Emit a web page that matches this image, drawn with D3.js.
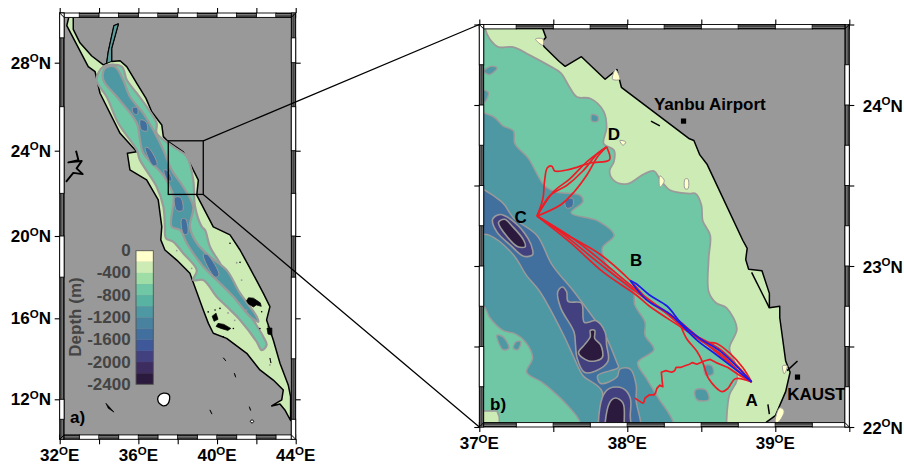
<!DOCTYPE html>
<html>
<head>
<meta charset="utf-8">
<title>Red Sea glider tracks</title>
<script src="https://cdnjs.cloudflare.com/ajax/libs/d3/7.8.5/d3.min.js"></script>
<style>
  html, body { margin: 0; padding: 0; background: #fff; }
  svg { display: block; }
  text { font-family: "Liberation Sans", Arial, sans-serif; font-weight: bold; }
</style>
</head>
<body>
<svg id="chart" width="904" height="466"></svg>
<script>
// ---- depth colour bar ----
const depthBreaks = [0, -200, -400, -600, -800, -1000, -1200, -1400, -1600, -1800, -2000, -2200, -2400];
const depthColors = ['#ffffcc', '#cdebb5', '#9fdda6', '#70c7a6', '#58b3a2', '#4e98a3', '#48829f', '#41709e', '#3f5899', '#42407f', '#3d2c5f', '#2b1a3d'];
const depthTicks = [0, -400, -800, -1200, -1600, -2000, -2400];

// ---- panel a) whole Red Sea, lon/lat ----
const seaA = [[32.52,30.02],[32.69,29.79],[32.69,29.34],[33.03,28.80],[33.63,28.27],[34.22,27.90],[34.39,27.97],[34.47,28.43],[34.76,29.49],[34.98,29.56],[34.64,28.58],[34.64,28.05],[35.07,28.08],[35.41,27.82],[35.92,27.06],[36.39,26.38],[36.68,25.77],[37.19,25.17],[37.27,24.64],[37.52,24.41],[38.28,23.95],[38.62,23.41],[39.05,22.62],[38.97,21.92],[39.81,20.43],[40.66,20.05],[41.17,19.32],[41.68,18.43],[42.35,17.22],[42.69,16.57],[42.52,15.92],[42.86,14.93],[43.20,13.78],[43.62,12.71],[43.74,12.13],[43.74,10.94],[43.45,11.47],[43.20,11.77],[42.78,11.67],[43.29,11.97],[43.37,12.46],[42.86,12.95],[42.18,13.45],[41.51,14.27],[40.49,15.01],[39.81,15.26],[39.56,15.75],[39.30,16.40],[38.62,18.19],[37.95,18.83],[37.35,19.32],[37.14,19.81],[37.19,20.44],[37.01,21.69],[36.42,22.63],[35.57,23.10],[35.44,23.88],[35.92,23.95],[35.07,24.79],[34.05,26.61],[33.80,27.59],[33.45,27.82],[32.36,29.49]];
const aqabaA = [[34.47,28.43],[34.76,29.49],[34.98,29.56],[34.64,28.58],[34.64,28.05],[34.39,27.97]];
const midA = [[34.22,27.82],[35.15,27.82],[35.41,27.21],[35.92,26.61],[36.42,26.00],[36.93,25.25],[36.93,24.79],[37.78,24.18],[38.46,23.72],[38.79,22.63],[38.83,22.01],[38.88,21.38],[39.22,20.44],[39.39,20.28],[39.64,19.48],[40.24,18.51],[40.57,17.62],[41.17,17.05],[41.84,15.92],[42.35,15.09],[42.52,14.68],[42.27,14.43],[42.02,14.84],[41.17,15.92],[40.49,16.57],[39.98,17.05],[39.30,17.86],[38.79,17.86],[38.97,18.34],[38.28,19.16],[37.78,19.72],[37.40,19.89],[37.35,20.44],[37.27,21.38],[36.93,22.31],[36.08,23.56],[35.92,24.03],[34.98,25.25],[34.39,26.45],[33.88,27.21]];
const centreA = [[34.30,27.75],[34.81,27.82],[35.23,27.21],[35.57,26.45],[36.25,25.70],[36.76,24.94],[37.27,24.03],[37.69,23.10],[38.28,22.31],[38.79,21.38],[38.62,20.44],[38.97,19.65],[39.64,19.00],[40.49,18.34],[41.17,17.22],[42.02,16.08],[42.10,15.83],[41.68,16.08],[40.83,17.05],[39.98,17.86],[39.30,18.51],[38.46,19.65],[38.12,20.28],[37.69,20.44],[37.78,21.89],[37.27,22.83],[36.25,23.88],[36.08,24.50],[35.92,25.25],[34.90,26.45],[34.22,27.21]];
const deepA = [
  [[36.35,24.15],[36.55,24.10],[36.95,23.35],[36.75,23.30]],
  [[36.10,25.40],[36.40,25.30],[36.45,24.90],[36.15,24.95]],
  [[35.70,25.95],[35.95,25.95],[35.95,25.65],[35.75,25.70]],
  [[37.30,23.10],[37.50,23.05],[37.70,22.60],[37.50,22.60]],
  [[37.85,21.80],[38.15,21.80],[38.25,21.20],[37.95,21.20]],
  [[38.20,20.80],[38.40,20.80],[38.50,20.10],[38.30,20.10]],
  [[39.30,19.10],[39.50,19.10],[40.10,18.10],[39.90,18.00]]
];
const islandsA = [
  [[41.50,16.85],[41.60,17.00],[41.85,16.98],[42.20,16.75],[42.25,16.58],[42.00,16.65],[41.85,16.55],[41.60,16.70]],
  [[39.75,16.10],[39.95,16.25],[40.05,15.95],[39.85,15.85]],
  [[40.05,15.75],[40.35,15.70],[40.70,15.50],[40.55,15.40],[40.20,15.50],[39.95,15.60]],
  [[42.54,15.52],[42.79,15.52],[42.79,15.17],[42.59,15.22]],
  [[42.69,14.04],[42.74,13.79]],
  [[40.32,14.05],[40.45,13.89]],
  [[40.88,13.29],[40.95,13.09]],
  [[34.35,11.80],[34.47,11.55],[34.76,11.36]],
  [[39.64,11.47],[39.74,11.26]],
  [[41.64,11.63],[41.71,11.44]]
];
const blackSpecksA = [[39.55,16.31],[39.90,16.40],[40.15,16.48],[40.83,15.50],[40.32,15.09],[41.17,18.72],[42.27,16.32],[42.61,15.60],[42.18,15.50],[40.66,19.65]];
const greySpecksA = [[37.95,19.29],[37.44,18.75],[38.71,18.43],[41.00,18.70],[41.25,17.86],[40.56,16.26],[40.90,15.90],[41.50,16.40],[42.69,13.70]];
const nasserA = [[32.83,24.00],[32.95,23.56],[32.44,23.45],[33.12,23.52],[32.86,23.17],[33.17,22.90],[32.69,22.96],[32.32,22.54]];
const whiteIslandA = [[37.01,12.13],[37.27,12.30],[37.57,12.21],[37.52,11.80],[37.27,11.67],[37.01,11.88]];
const diamondA = [[41.78,10.98],[41.88,10.90],[41.78,10.80],[41.68,10.90]];
const zoomBoxLon = [37.52, 39.30];
const zoomBoxLat = [24.45, 21.95];

// ---- panel b) zoom on the glider area ----
const seaB = [[37.43,24.6],[37.43,24.47],[37.45,24.42],[37.42,24.39],[37.44,24.36],[37.54,24.27],[37.58,24.24],[37.69,24.30],[37.85,24.16],[37.93,24.22],[37.96,24.11],[38.42,23.79],[38.45,23.78],[38.49,23.69],[38.54,23.63],[38.78,23.16],[38.81,23.11],[38.80,23.04],[38.82,22.98],[38.91,22.97],[38.96,22.83],[38.96,22.74],[39.03,22.75],[39.03,22.68],[39.07,22.41],[39.10,22.34],[39.07,22.22],[39.00,22.07],[38.94,22.03],[38.94,21.9],[36.9,21.9],[36.9,24.6]];
const midB = [[37.02,24.6],[37.04,24.47],[37.07,24.41],[37.13,24.36],[37.23,24.36],[37.34,24.31],[37.48,24.24],[37.55,24.20],[37.61,24.11],[37.66,24.05],[37.75,24.04],[37.84,23.96],[37.86,23.86],[37.84,23.76],[37.91,23.72],[37.91,23.65],[37.88,23.59],[37.91,23.53],[38.00,23.51],[38.11,23.57],[38.18,23.59],[38.22,23.54],[38.29,23.47],[38.42,23.45],[38.46,23.45],[38.50,23.38],[38.51,23.28],[38.56,23.19],[38.55,23.05],[38.55,22.84],[38.60,22.77],[38.67,22.74],[38.74,22.61],[38.69,22.49],[38.73,22.39],[38.74,22.29],[38.69,22.20],[38.67,22.03],[38.67,21.9],[36.9,21.9],[36.9,24.6]];
const shelfCornerB = [[36.9,22.1],[37.12,22.1],[37.135,22.06],[37.135,21.9],[36.9,21.9]];
const bandB = [[36.9,23.94],[37.09,23.93],[37.16,23.87],[37.23,23.84],[37.24,23.76],[37.33,23.67],[37.44,23.50],[37.52,23.46],[37.68,23.44],[37.70,23.40],[37.62,23.33],[37.80,23.28],[37.91,23.19],[37.83,23.11],[37.88,22.99],[38.04,22.86],[38.05,22.76],[38.12,22.65],[38.12,22.57],[38.18,22.48],[38.07,22.40],[38.13,22.30],[38.21,22.18],[38.31,22.03],[38.31,21.9],[37.68,21.9],[37.68,22.03],[37.59,22.14],[37.50,22.22],[37.42,22.28],[37.32,22.34],[37.36,22.43],[37.31,22.53],[37.24,22.58],[37.16,22.60],[37.07,22.68],[37.03,22.75],[36.9,22.8]];
const axisB = [[36.9,23.51],[37.15,23.40],[37.23,23.30],[37.39,23.19],[37.49,23.01],[37.64,22.84],[37.77,22.68],[37.84,22.59],[37.93,22.40],[37.94,22.37],[37.80,22.32],[37.82,22.27],[37.93,22.31],[37.95,22.36],[38.02,22.36],[38.06,22.26],[38.06,22.16],[38.09,22.03],[38.09,21.9],[37.80,21.9],[37.83,22.22],[37.70,22.32],[37.64,22.43],[37.57,22.57],[37.41,22.84],[37.32,22.94],[37.23,23.07],[37.07,23.19],[36.9,23.21]];
const basinsB = [
  [[37.09,23.29],[37.14,23.32],[37.24,23.27],[37.33,23.17],[37.36,23.10],[37.36,23.07],[37.30,23.06],[37.21,23.13],[37.12,23.21]],
  [[37.53,22.84],[37.56,22.87],[37.59,22.84],[37.60,22.78],[37.69,22.77],[37.71,22.65],[37.79,22.66],[37.85,22.59],[37.86,22.51],[37.87,22.41],[37.79,22.35],[37.71,22.34],[37.66,22.43],[37.65,22.51],[37.64,22.59],[37.55,22.74]],
  [[37.83,21.9],[37.83,22.18],[37.88,22.24],[37.97,22.24],[38.02,22.18],[38.02,22.07],[38.02,21.9]]
];
const deepsB = [
  [[37.13,23.27],[37.17,23.29],[37.23,23.24],[37.30,23.16],[37.31,23.12],[37.26,23.12],[37.19,23.18]],
  [[37.75,22.60],[37.78,22.60],[37.78,22.55],[37.82,22.51],[37.83,22.43],[37.74,22.41],[37.67,22.46],[37.71,22.51],[37.75,22.56]],
  [[37.86,21.9],[37.88,22.15],[37.92,22.18],[37.97,22.15],[37.98,22.07],[37.95,21.9]]
];
const patchesB = [
  [[37.03,24.21],[37.08,24.24],[37.12,24.23],[37.07,24.19]],
  [[37.00,24.09],[37.06,24.08],[37.04,24.02],[37.00,24.00]],
  [[37.76,23.94],[37.80,23.93],[37.80,23.90],[37.76,23.90]],
  [[37.12,22.57],[37.16,22.56],[37.20,22.49],[37.16,22.48]],
  [[37.25,22.53],[37.28,22.53],[37.26,22.48],[37.23,22.49]],
  [[38.52,22.38],[38.57,22.38],[38.58,22.33],[38.53,22.32]],
  [[38.46,22.23],[38.53,22.23],[38.55,22.17],[38.47,22.17]]
];
const dotsB = [[[37.58,23.41],[37.63,23.42],[37.63,23.37],[37.59,23.36]]];
const shoalsB = [
  [[37.38,24.41],[37.43,24.41],[37.43,24.37]],
  [[37.92,24.22],[37.95,24.16],[37.90,24.16]],
  [[37.95,23.78],[37.99,23.77],[37.97,23.75]],
  [[38.22,23.56],[38.25,23.53],[38.22,23.49]],
  [[38.39,23.54],[38.41,23.54],[38.41,23.48],[38.39,23.48]],
  [[39.03,22.12],[39.06,22.10],[39.02,22.03],[39.00,22.03]],
  [[39.05,22.38],[39.08,22.38],[39.06,22.33]]
];
const coastLinesB = [
  [[38.84,22.96],[38.96,22.74]],
  [[39.08,22.35],[39.15,22.41]],
  [[38.95,22.14],[38.96,22.08]],
  [[38.16,23.90],[38.22,23.87]]
];

// glider tracks
const pointA = [38.84, 22.28];
const pointC = [37.39, 23.31];
const pointD = [37.86, 23.74];
const redTracks = [
  [pointC,[37.58,23.20],[37.82,23.07],[38.02,22.91],[38.15,22.78],[38.36,22.65],[38.51,22.53],[38.60,22.52],[38.69,22.46],[38.78,22.37],pointA],
  [pointC,[37.61,23.15],[37.84,22.96],[38.06,22.82],[38.15,22.75],[38.38,22.61],[38.54,22.51],[38.65,22.44],[38.78,22.32],pointA],
  [pointC,[37.65,23.16],[37.84,23.02],[38.05,22.86],[38.22,22.74],[38.42,22.59],[38.63,22.48],pointA],
  [pointC,[37.55,23.21],[37.82,23.01],[38.09,22.82],[38.29,22.70],[38.49,22.55],pointA],
  [pointC,[37.50,23.46],[37.61,23.54],[37.73,23.65],pointD],
  [pointC,[37.48,23.44],[37.59,23.50],[37.70,23.59],[37.80,23.70],pointD],
  [pointC,[37.55,23.38],[37.64,23.46],[37.73,23.57],[37.80,23.68],pointD],
  [pointD,[37.88,23.66],[37.75,23.64],[37.61,23.60],[37.51,23.59],[37.49,23.62],[37.46,23.61],[37.44,23.52],[37.43,23.42],pointC],
  [[38.36,22.63],[38.40,22.55],[38.47,22.47],[38.51,22.40],[38.55,22.30],[38.64,22.22],[38.68,22.24],[38.73,22.30],pointA]
];
const redWiggle = [pointA,[38.76,22.32],[38.68,22.37],[38.60,22.40],[38.56,22.42],[38.52,22.41],[38.47,22.39],[38.44,22.40],[38.42,22.39],[38.39,22.38],[38.36,22.37],[38.33,22.37],[38.32,22.35],[38.30,22.34],[38.26,22.35],[38.23,22.34],[38.235,22.29],[38.24,22.25],[38.22,22.26],[38.20,22.24],[38.19,22.21],[38.18,22.20],[38.15,22.20],[38.12,22.18],[38.11,22.15],[38.10,22.15],[38.05,22.18]];
const blueTracks = [
  [[38.02,22.91],[38.06,22.89],[38.15,22.82],[38.27,22.75],[38.36,22.65],[38.49,22.55],[38.63,22.47],pointA],
  [[38.02,22.91],[38.13,22.79],[38.29,22.70],[38.47,22.54],[38.60,22.45],pointA]
];
const placeSquares = [[38.38, 23.90], [39.15, 22.31]];
const placeLabels = ['Yanbu Airport', 'KAUST', 'A', 'B', 'C', 'D'];
const placeLon = [38.18, 39.08, 38.84, 38.06, 37.28, 37.91];
const placeLat = [23.97, 22.17, 22.13, 23.00, 23.27, 23.78];

// ---- frame ticks and fancy-border segments ----
const lonTicksA = [32, 34, 36, 38, 40, 42, 44];
const lonLabelsA = [32, 36, 40, 44];
const latTicksA = [28, 24, 20, 16, 12];
const lonEdgesA = d3.range(32, 44, 1);
const leftWhiteA = [[30,29],[26,22],[20,18],[12,11]];
const rightWhiteA = [[29,28],[26,24],[22,20],[18,14],[11,10]];
const lonTicksB = [37, 37.5, 38, 38.5, 39, 39.5];
const lonLabelsB = [37, 38, 39];
const latTicksB = [22, 22.5, 23, 23.5, 24, 24.5];
const latLabelsB = [22, 23, 24];
const lonEdgesB = d3.range(37, 39.5, 0.25);
const leftWhiteB = [[22.5,22.25],[23,22.75],[23.5,23.25],[24,23.75],[24.5,24.25]];
const rightWhiteB = [[22.25,22],[22.75,22.5],[23.25,23],[23.75,23.5],[24.25,24]];

const svg = d3.select('#chart');

// scales - map frames are mercator so the lat scale has to bend a little in a)
const xA = d3.scaleLinear().domain([32, 44]).range([59.7, 295.7]);
const yA = d3.scaleLinear().domain([10, 12, 16, 20, 24, 28, 30]).range([439.3, 399.3, 318.3, 236, 150.7, 62.7, 13]);
const xB = d3.scaleLinear().domain([37, 39.5]).range([479.3, 849.3]);
const yB = d3.scaleLinear().domain([22, 24.5]).range([427, 24.5]);
const yBar = d3.scaleLinear().domain([0, -2400]).range([250.7, 384.3]);

const BAR = 4.4;
const GREY = '#999999';
const CONTOUR = '#9a9a9a';
const FONT = 17;

function lineOf(x, y, curve) {
  return d3.line().x(d => x(d[0])).y(d => y(d[1])).curve(curve || d3.curveLinear);
}

function addClip(id, x, y) {
  svg.append('clipPath').attr('id', id).append('rect')
    .attr('x', x.range()[0] + BAR).attr('y', y(d3.max(y.domain())) + BAR)
    .attr('width', x.range()[1] - x.range()[0] - 2 * BAR)
    .attr('height', y(d3.min(y.domain())) - y(d3.max(y.domain())) - 2 * BAR);
}

function fillPolys(g, polys, path, fill, stroke, width) {
  g.append('g').selectAll('path').data(polys).join('path')
    .attr('d', d => path(d))
    .attr('fill', fill)
    .attr('stroke', stroke)
    .attr('stroke-width', width)
    .attr('stroke-linejoin', 'round');
}

function drawSegment(g, x0, y0, x1, y1, white) {
  const horizontal = y1 - y0 < x1 - x0;
  g.append('rect').attr('x', x0).attr('y', y0).attr('width', x1 - x0).attr('height', y1 - y0)
    .attr('fill', white ? '#fff' : '#111').attr('stroke', '#000').attr('stroke-width', 0.9);
  if (white) return;
  [1 / 3, 2 / 3].forEach(f => {
    const l = g.append('line').attr('stroke', '#999').attr('stroke-width', 0.8);
    if (horizontal) l.attr('x1', x0).attr('x2', x1).attr('y1', y0 + f * (y1 - y0)).attr('y2', y0 + f * (y1 - y0));
    else l.attr('y1', y0).attr('y2', y1).attr('x1', x0 + f * (x1 - x0)).attr('x2', x0 + f * (x1 - x0));
  });
}

// fancy GMT border: lon cells start white at the top, the bottom is the inverse
function drawFrame(g, x, y, lonEdges, lonStep, leftWhite, rightWhite) {
  const [l, r] = x.range();
  const b = y(d3.min(y.domain()));
  const t = y(d3.max(y.domain()));
  lonEdges.forEach((lon, i) => {
    const white = i % 2 === 0;
    drawSegment(g, x(lon), t, x(lon + lonStep), t + BAR, white);
    drawSegment(g, x(lon), b - BAR, x(lon + lonStep), b, !white);
  });
  drawSegment(g, l, t, l + BAR, b, false);
  drawSegment(g, r - BAR, t, r, b, false);
  leftWhite.forEach(s => drawSegment(g, l, y(s[0]), l + BAR, y(s[1]), true));
  rightWhite.forEach(s => drawSegment(g, r - BAR, y(s[0]), r, y(s[1]), true));
  [[l, t, 1, 1], [r, t, -1, 1], [l, b, 1, -1], [r, b, -1, -1]].forEach(c => {
    g.append('line').attr('x1', c[0]).attr('y1', c[1])
      .attr('x2', c[0] + c[2] * BAR).attr('y2', c[1] + c[3] * BAR)
      .attr('stroke', '#000').attr('stroke-width', 1);
  });
}

function drawTicks(g, x, y, lonTicks, latTicks) {
  const [l, r] = x.range();
  const b = y(d3.min(y.domain()));
  const t = y(d3.max(y.domain()));
  const clean = s => { s.select('.domain').remove(); s.selectAll('line').attr('stroke', '#000').attr('stroke-width', 1.1); };
  g.append('g').attr('transform', `translate(0,${b})`).call(d3.axisBottom(x).tickValues(lonTicks).tickSize(5).tickFormat('')).call(clean);
  g.append('g').attr('transform', `translate(0,${t})`).call(d3.axisTop(x).tickValues(lonTicks).tickSize(5).tickFormat('')).call(clean);
  g.append('g').attr('transform', `translate(${l},0)`).call(d3.axisLeft(y).tickValues(latTicks).tickSize(5).tickFormat('')).call(clean);
  g.append('g').attr('transform', `translate(${r},0)`).call(d3.axisRight(y).tickValues(latTicks).tickSize(5).tickFormat('')).call(clean);
}

// "28 O N" style label, the O is the GMT degree sign
function geoLabel(g, px, py, deg, hemi, anchor) {
  const t = g.append('text').attr('x', px).attr('y', py).attr('text-anchor', anchor)
    .attr('font-size', FONT).attr('fill', '#000');
  t.append('tspan').text(deg);
  t.append('tspan').attr('font-size', 11.5).attr('dy', -6.5).text('O');
  t.append('tspan').attr('dy', 6.5).text(hemi);
}

// ---------- panel a ----------
addClip('clipA', xA, yA);
const mapA = svg.append('g');
mapA.append('rect').attr('x', xA(32)).attr('y', yA(30)).attr('width', xA(44) - xA(32)).attr('height', yA(10) - yA(30)).attr('fill', GREY);
const bodyA = mapA.append('g').attr('clip-path', 'url(#clipA)');
const pathA = lineOf(xA, yA, d3.curveLinear);
const closedA = d => pathA(d) + 'Z';
const smoothA = lineOf(xA, yA, d3.curveCatmullRomClosed.alpha(0.5));
fillPolys(bodyA, [seaA], closedA, depthColors[1], '#000', 1.5);
fillPolys(bodyA, [aqabaA], closedA, '#5d9c9c', '#000', 1);
fillPolys(bodyA, [midA], smoothA, depthColors[3], CONTOUR, 2.2);
fillPolys(bodyA, [centreA], smoothA, depthColors[5], CONTOUR, 2.2);
fillPolys(bodyA, deepA, smoothA, depthColors[7], CONTOUR, 1);
fillPolys(bodyA, islandsA, closedA, '#000', '#000', 0.7);
fillPolys(bodyA, [nasserA], pathA, 'none', '#000', 1.9);
fillPolys(bodyA, [whiteIslandA], smoothA, '#fff', '#000', 1.3);
fillPolys(bodyA, [diamondA], closedA, '#fff', '#000', 1);
bodyA.append('g').selectAll('circle').data(greySpecksA).join('circle')
  .attr('cx', d => xA(d[0])).attr('cy', d => yA(d[1])).attr('r', 0.9).attr('fill', CONTOUR);
bodyA.append('g').selectAll('circle').data(blackSpecksA).join('circle')
  .attr('cx', d => xA(d[0])).attr('cy', d => yA(d[1])).attr('r', 0.8).attr('fill', '#000');

// colour bar
const barG = svg.append('g');
barG.selectAll('rect').data(depthColors).join('rect')
  .attr('x', 136).attr('width', 17.3)
  .attr('y', (d, i) => yBar(depthBreaks[i]))
  .attr('height', (d, i) => yBar(depthBreaks[i + 1]) - yBar(depthBreaks[i]))
  .attr('fill', d => d);
barG.append('rect').attr('x', 136).attr('y', yBar(0)).attr('width', 17.3)
  .attr('height', yBar(-2400) - yBar(0)).attr('fill', 'none').attr('stroke', '#555').attr('stroke-width', 0.9);
barG.selectAll('text.tick').data(depthTicks).join('text').attr('class', 'tick')
  .attr('x', 130.7).attr('y', d => yBar(d) + 5.5).attr('text-anchor', 'end')
  .attr('font-size', FONT).attr('fill', '#444').text(d => d);
barG.append('text').attr('transform', 'translate(81,317) rotate(-90)').attr('text-anchor', 'middle')
  .attr('font-size', FONT).attr('fill', '#444').text('Depth (m)');
svg.append('text').attr('x', 70).attr('y', 423).attr('font-size', FONT).text('a)');

drawFrame(svg.append('g'), xA, yA, lonEdgesA, 1, leftWhiteA, rightWhiteA);
drawTicks(svg.append('g'), xA, yA, lonTicksA, latTicksA);
lonLabelsA.forEach(d => geoLabel(svg, xA(d), 461, d, 'E', 'middle'));
latTicksA.forEach(d => geoLabel(svg, 51, yA(d) + 6, d, 'N', 'end'));

// ---------- panel b ----------
addClip('clipB', xB, yB);
const mapB = svg.append('g');
mapB.append('rect').attr('x', xB(37)).attr('y', yB(24.5)).attr('width', xB(39.5) - xB(37)).attr('height', yB(22) - yB(24.5)).attr('fill', GREY);
const bodyB = mapB.append('g').attr('clip-path', 'url(#clipB)');
const pathB = lineOf(xB, yB, d3.curveLinear);
const smoothB = lineOf(xB, yB, d3.curveCatmullRomClosed.alpha(0.5));
fillPolys(bodyB, [seaB], d => pathB(d) + 'Z', depthColors[1], '#000', 1.5);
fillPolys(bodyB, coastLinesB, pathB, 'none', '#000', 1.5);
fillPolys(bodyB, [midB], smoothB, depthColors[3], CONTOUR, 1.8);
fillPolys(bodyB, [shelfCornerB], d => pathB(d) + 'Z', depthColors[1], CONTOUR, 1.5);
fillPolys(bodyB, [bandB], smoothB, depthColors[5], CONTOUR, 1.5);
fillPolys(bodyB, patchesB, smoothB, depthColors[5], CONTOUR, 1.4);
fillPolys(bodyB, [axisB], smoothB, depthColors[7], CONTOUR, 1.5);
fillPolys(bodyB, dotsB, smoothB, depthColors[7], CONTOUR, 1);
fillPolys(bodyB, basinsB, smoothB, depthColors[9], CONTOUR, 1.6);
fillPolys(bodyB, deepsB, smoothB, depthColors[11], CONTOUR, 1.6);
fillPolys(bodyB, shoalsB, smoothB, depthColors[0], CONTOUR, 1);

const trackPath = lineOf(xB, yB, d3.curveCatmullRom.alpha(0.5));
fillPolys(bodyB, redTracks, trackPath, 'none', '#ee1c25', 1.7);
fillPolys(bodyB, [redWiggle], pathB, 'none', '#ee1c25', 1.7);
fillPolys(bodyB, blueTracks, trackPath, 'none', '#1c1ce6', 1.7);

svg.append('g').selectAll('rect').data(placeSquares).join('rect')
  .attr('x', d => xB(d[0]) - 2.6).attr('y', d => yB(d[1]) - 2.6)
  .attr('width', 5.2).attr('height', 5.2).attr('fill', '#000');
svg.append('g').selectAll('text').data(placeLabels).join('text')
  .attr('x', (d, i) => xB(placeLon[i])).attr('y', (d, i) => yB(placeLat[i]))
  .attr('text-anchor', (d, i) => i < 2 ? 'start' : 'middle')
  .attr('font-size', FONT).attr('fill', '#000').text(d => d);
svg.append('text').attr('x', 490).attr('y', 410).attr('font-size', FONT).text('b)');

drawFrame(svg.append('g'), xB, yB, lonEdgesB, 0.25, leftWhiteB, rightWhiteB);
drawTicks(svg.append('g'), xB, yB, lonTicksB, latTicksB);
lonLabelsB.forEach(d => geoLabel(svg, xB(d), 449, d, 'E', 'middle'));
latLabelsB.forEach(d => geoLabel(svg, 862.7, yB(d) + 6.5, d, 'N', 'start'));

// box on a) and the two lines running to the corners of b)
const zoomG = svg.append('g').attr('fill', 'none').attr('stroke', '#000').attr('stroke-width', 1.3);
zoomG.append('rect').attr('x', xA(zoomBoxLon[0])).attr('y', yA(zoomBoxLat[0]))
  .attr('width', xA(zoomBoxLon[1]) - xA(zoomBoxLon[0])).attr('height', yA(zoomBoxLat[1]) - yA(zoomBoxLat[0]));
[[zoomBoxLat[0], 24.5], [zoomBoxLat[1], 22]].forEach(c => {
  zoomG.append('line').attr('x1', xA(zoomBoxLon[1])).attr('y1', yA(c[0]))
    .attr('x2', xB(37)).attr('y2', yB(c[1]));
});
</script>
</body>
</html>
